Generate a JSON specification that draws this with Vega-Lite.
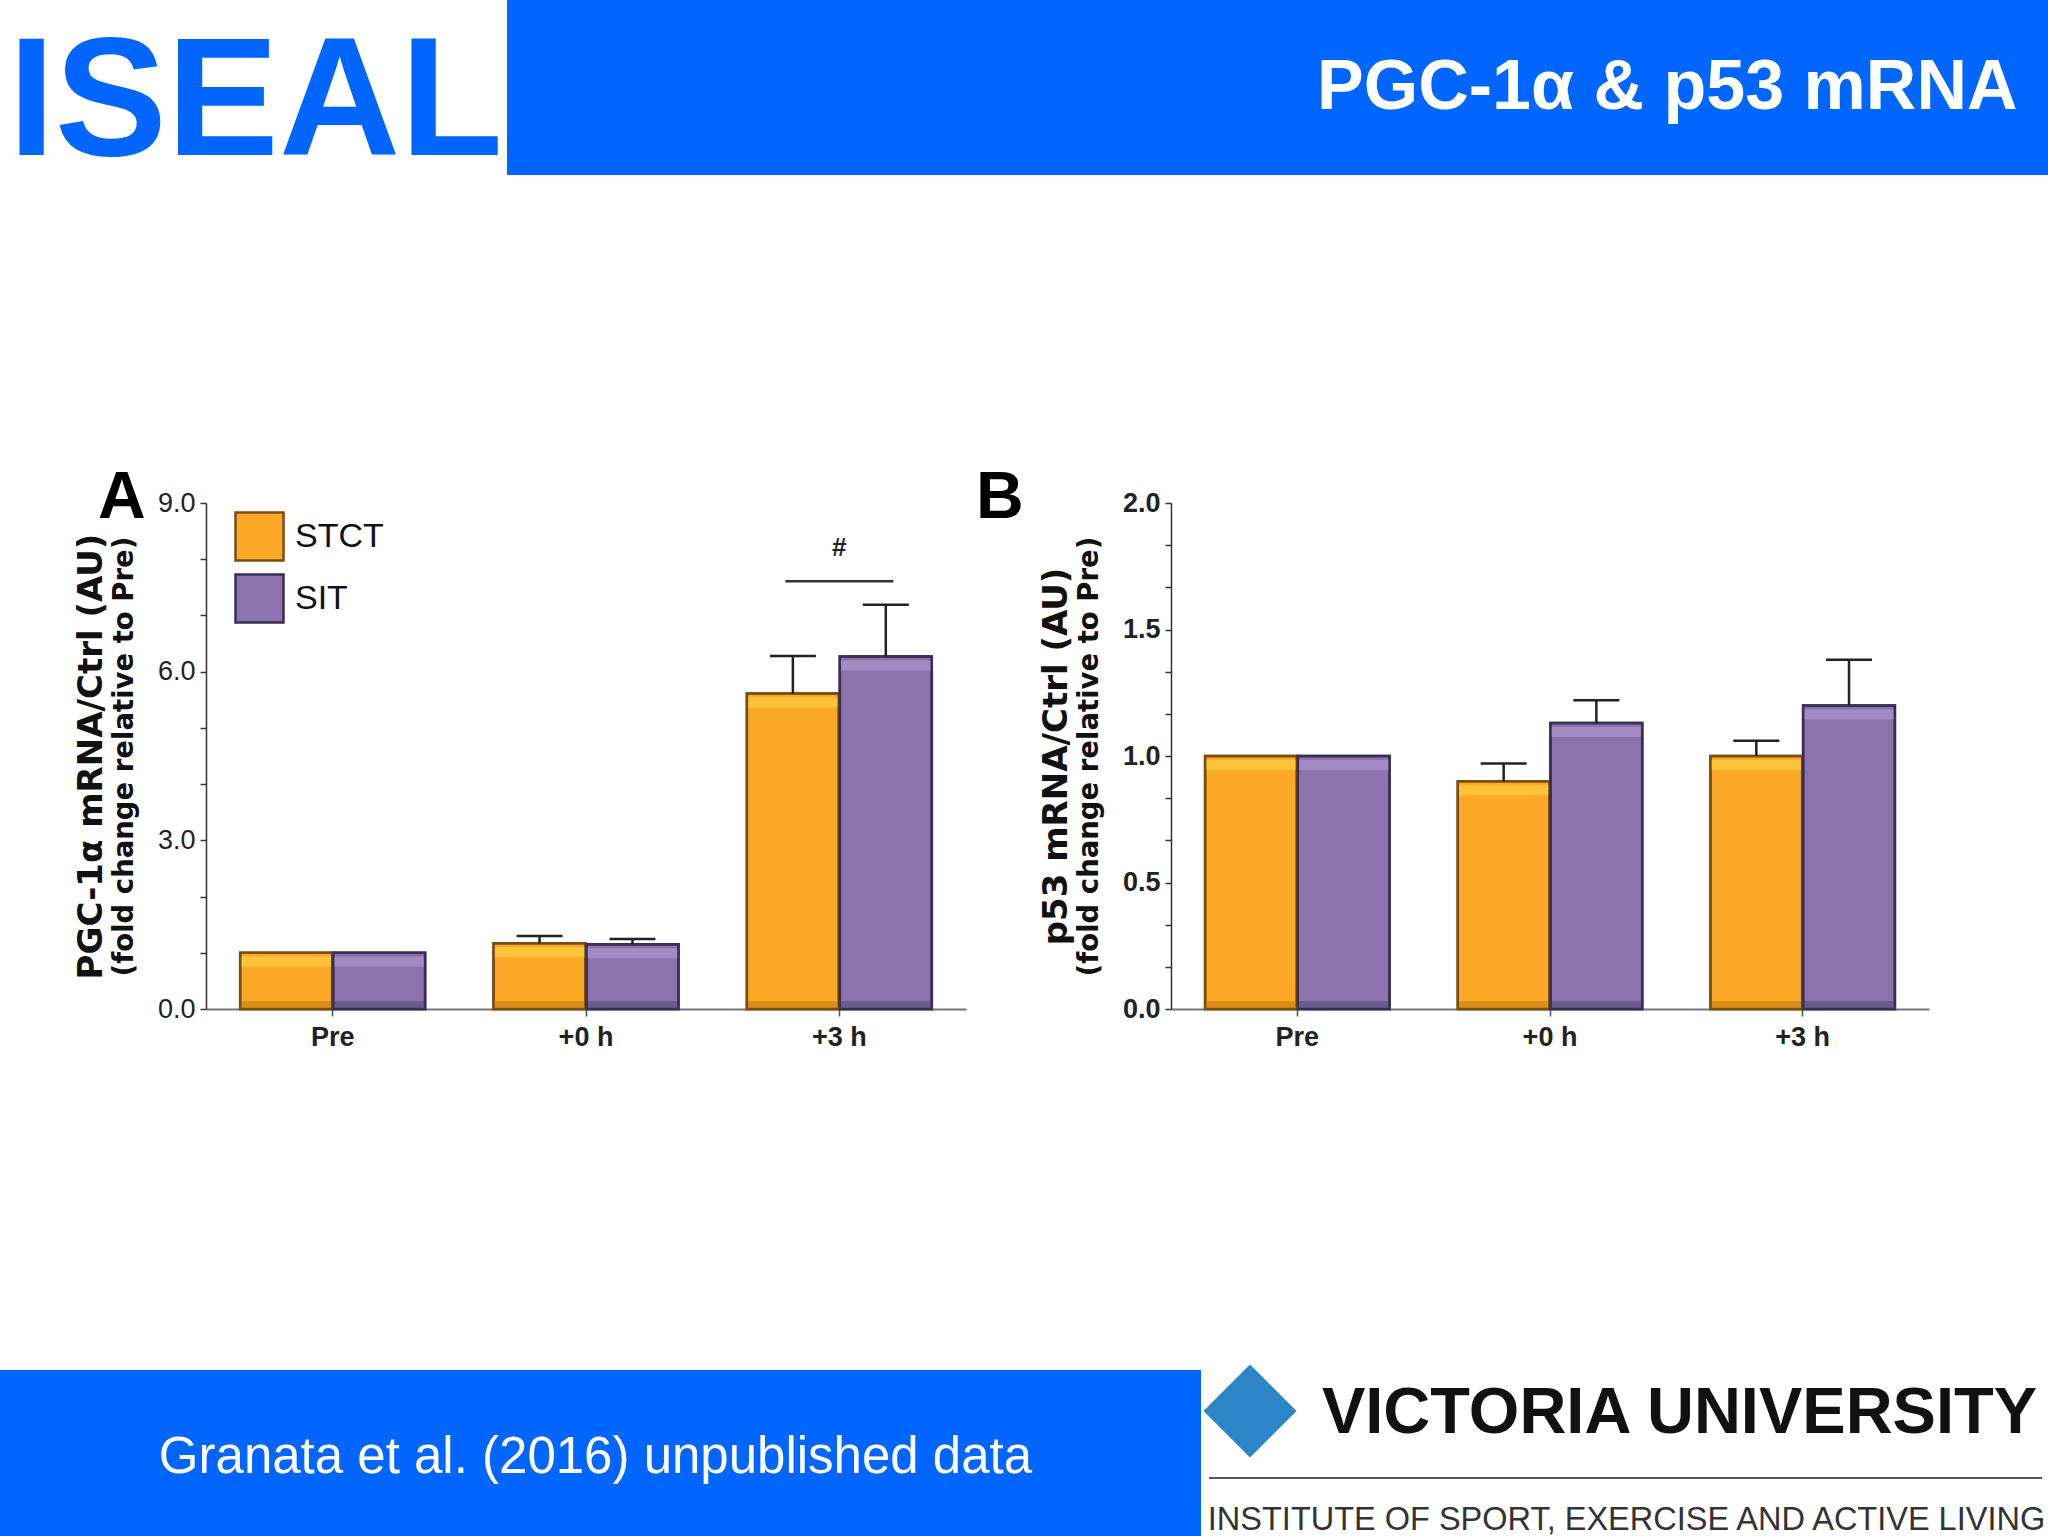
{
  "$schema": "https://vega.github.io/schema/vega-lite/v6.json",
  "padding": 0,
  "background": "white",
  "spacing": 0,
  "bounds": "flush",
  "config": {"view": {"stroke": null}, "concat": {"spacing": 0}},
  "datasets": {
    "pgc": [
      {"time": "Pre", "group": "STCT", "value": 1.0},
      {"time": "Pre", "group": "SIT", "value": 1.0},
      {"time": "+0 h", "group": "STCT", "value": 1.17},
      {"time": "+0 h", "group": "SIT", "value": 1.15},
      {"time": "+3 h", "group": "STCT", "value": 5.61},
      {"time": "+3 h", "group": "SIT", "value": 6.27}
    ],
    "pgcErr": [
      {"time": "+0 h", "group": "STCT", "value": 1.17, "upper": 1.30},
      {"time": "+0 h", "group": "SIT", "value": 1.15, "upper": 1.245},
      {"time": "+3 h", "group": "STCT", "value": 5.61, "upper": 6.28},
      {"time": "+3 h", "group": "SIT", "value": 6.27, "upper": 7.19}
    ],
    "pgcSig": [
      {"time": "+3 h", "line": 7.61, "mark": 8.2, "label": "#"}
    ],
    "p53": [
      {"time": "Pre", "group": "STCT", "value": 1.0},
      {"time": "Pre", "group": "SIT", "value": 1.0},
      {"time": "+0 h", "group": "STCT", "value": 0.90},
      {"time": "+0 h", "group": "SIT", "value": 1.13},
      {"time": "+3 h", "group": "STCT", "value": 1.0},
      {"time": "+3 h", "group": "SIT", "value": 1.20}
    ],
    "p53Err": [
      {"time": "+0 h", "group": "STCT", "value": 0.90, "upper": 0.97},
      {"time": "+0 h", "group": "SIT", "value": 1.13, "upper": 1.22},
      {"time": "+3 h", "group": "STCT", "value": 1.0, "upper": 1.06},
      {"time": "+3 h", "group": "SIT", "value": 1.20, "upper": 1.38}
    ]
  },
  "vconcat": [
    {
      "hconcat": [
        {
          "width": 507, "height": 175,
          "data": {"values": [{"t": "ISEAL"}]},
          "mark": {"type": "text", "font": "Liberation Sans", "fontWeight": "bold", "fontSize": 168, "color": "#0066FF", "align": "center", "baseline": "alphabetic", "dx": 2, "dy": 67},
          "encoding": {"text": {"field": "t"}}
        },
        {
          "width": 1541, "height": 175,
          "view": {"fill": "#0066FF", "stroke": null},
          "data": {"values": [{"t": "PGC-1α & p53 mRNA"}]},
          "mark": {"type": "text", "font": "Liberation Sans", "fontWeight": "bold", "fontSize": 70, "color": "white", "align": "right", "baseline": "alphabetic", "dx": 740, "dy": 21},
          "encoding": {"text": {"field": "t"}}
        }
      ],
      "spacing": 0, "bounds": "flush"
    },
    {
      "width": 2048, "height": 503,
      "data": {"values": [{}]},
      "mark": {"type": "text", "text": ""},
      "encoding": {}
    },
    {
      "hconcat": [
        {
          "width": 1, "height": 506,
          "data": {"values": [{}]},
          "mark": {"type": "text", "text": ""},
          "encoding": {}
        },
        {
          "width": 760, "height": 506,
          "title": {"text": "A", "anchor": "start", "frame": "group", "orient": "top", "offset": 0, "baseline": "alphabetic", "dx": -108, "dy": 95, "font": "Liberation Sans", "fontSize": 66, "fontWeight": "bold", "color": "#000"},
          "resolve": {"axis": {"y": "independent"}},
          "layer": [
            {
              "data": {"name": "pgc"},
              "mark": {"type": "bar", "strokeWidth": 2.5},
              "encoding": {
                "x": {"field": "time", "type": "nominal", "sort": ["Pre", "+0 h", "+3 h"], "title": null,
                  "scale": {"paddingInner": 0.27, "paddingOuter": 0.135},
                  "axis": {"labelAngle": 0, "labelFont": "Liberation Sans", "labelFontSize": 27, "labelFontWeight": "bold", "labelColor": "#222", "labelPadding": 8, "tickSize": 7, "tickColor": "#555", "tickWidth": 1.5, "domainColor": "#777", "domainWidth": 2}},
                "xOffset": {"field": "group", "type": "nominal", "sort": ["STCT", "SIT"], "scale": {"paddingInner": 0.01}},
                "y": {"field": "value", "type": "quantitative", "scale": {"domain": [0, 9], "nice": false},
                  "axis": {"orient": "left", "values": [0, 1, 2, 3, 4, 5, 6, 7, 8, 9], "labelExpr": "datum.value % 3 === 0 ? format(datum.value, '.1f') : ''", "grid": false,
                    "title": "(fold change relative to Pre)", "titleFont": "DejaVu Sans", "titleFontSize": 27.5, "titleFontWeight": "bold", "titleColor": "#111", "titlePadding": 19,
                    "labelFont": "Liberation Sans", "labelFontSize": 27, "labelColor": "#222", "labelPadding": 5, "tickSize": 6, "tickColor": "#333", "tickWidth": 1.5, "domainColor": "#333", "domainWidth": 1.5}},
                "fill": {"field": "group", "type": "nominal", "sort": ["STCT", "SIT"], "scale": {"domain": ["STCT", "SIT"], "range": ["#FBA926", "#8C73AE"]},
                  "legend": {"orient": "none", "legendX": 28, "legendY": 8, "title": null, "symbolType": "square", "symbolSize": 2304, "symbolStrokeWidth": 2.5, "symbolOpacity": 1, "labelFont": "Liberation Sans", "labelFontSize": 34, "labelColor": "#111", "labelOffset": 10, "rowPadding": 3, "padding": 0}},
                "stroke": {"field": "group", "type": "nominal", "sort": ["STCT", "SIT"], "scale": {"domain": ["STCT", "SIT"], "range": ["#7A4E10", "#3A2E55"]},
                  "legend": {"orient": "none", "legendX": 28, "legendY": 8, "title": null, "symbolType": "square", "symbolSize": 2304, "symbolStrokeWidth": 2.5, "symbolOpacity": 1, "labelFont": "Liberation Sans", "labelFontSize": 34, "labelColor": "#111", "labelOffset": 10, "rowPadding": 3, "padding": 0}}
              }
            },
            {
              "data": {"name": "pgc"},
              "mark": {"type": "bar", "yOffset": 4, "y2Offset": 14, "opacity": 0.85},
              "encoding": {
                "x": {"field": "time", "type": "nominal", "sort": ["Pre", "+0 h", "+3 h"], "title": null},
                "xOffset": {"field": "group", "type": "nominal", "sort": ["STCT", "SIT"]},
                "y": {"field": "value", "type": "quantitative", "scale": {"domain": [0, 9], "nice": false}, "axis": null},
                "y2": {"field": "value"},
                "fill": {"condition": {"test": "datum.group === 'STCT'", "value": "#FDC840"}, "value": "#A48FC5"}
              }
            },
            {
              "data": {"name": "pgc"},
              "mark": {"type": "bar", "yOffset": -8, "y2Offset": -1, "opacity": 0.85},
              "encoding": {
                "x": {"field": "time", "type": "nominal", "sort": ["Pre", "+0 h", "+3 h"], "title": null},
                "xOffset": {"field": "group", "type": "nominal", "sort": ["STCT", "SIT"]},
                "y": {"datum": 0, "type": "quantitative", "scale": {"domain": [0, 9], "nice": false}, "axis": null},
                "y2": {"datum": 0},
                "fill": {"condition": {"test": "datum.group === 'STCT'", "value": "#D68915"}, "value": "#66578A"}
              }
            },
            {
              "data": {"name": "pgc"},
              "mark": {"type": "bar", "fill": "transparent", "strokeWidth": 2.5},
              "encoding": {
                "x": {"field": "time", "type": "nominal", "sort": ["Pre", "+0 h", "+3 h"], "title": null},
                "xOffset": {"field": "group", "type": "nominal", "sort": ["STCT", "SIT"]},
                "y": {"field": "value", "type": "quantitative", "scale": {"domain": [0, 9], "nice": false}, "axis": null},
                "stroke": {"condition": {"test": "datum.group === 'STCT'", "value": "#7A4E10"}, "value": "#3A2E55"}
              }
            },
            {
              "data": {"name": "pgcErr"},
              "mark": {"type": "rule", "color": "#222", "strokeWidth": 2.5},
              "encoding": {
                "x": {"field": "time", "type": "nominal", "sort": ["Pre", "+0 h", "+3 h"], "title": null},
                "xOffset": {"field": "group", "type": "nominal", "sort": ["STCT", "SIT"]},
                "y": {"field": "value", "type": "quantitative", "scale": {"domain": [0, 9], "nice": false},
                  "axis": {"orient": "left", "title": "PGC-1α mRNA/Ctrl (AU)", "labels": false, "ticks": false, "domain": false, "grid": false, "titleFont": "DejaVu Sans", "titleFontSize": 34, "titleFontWeight": "bold", "titleColor": "#111", "titlePadding": 98}},
                "y2": {"field": "upper"}
              }
            },
            {
              "data": {"name": "pgcErr"},
              "mark": {"type": "tick", "color": "#222", "size": 46, "thickness": 2.5, "opacity": 1},
              "encoding": {
                "x": {"field": "time", "type": "nominal", "sort": ["Pre", "+0 h", "+3 h"], "title": null},
                "xOffset": {"field": "group", "type": "nominal", "sort": ["STCT", "SIT"]},
                "y": {"field": "upper", "type": "quantitative", "scale": {"domain": [0, 9], "nice": false}, "axis": null}
              }
            },
            {
              "data": {"name": "pgcSig"},
              "mark": {"type": "tick", "color": "#333", "size": 108, "thickness": 2.5, "opacity": 1},
              "encoding": {
                "x": {"field": "time", "type": "nominal", "sort": ["Pre", "+0 h", "+3 h"], "title": null},
                "y": {"field": "line", "type": "quantitative", "scale": {"domain": [0, 9], "nice": false}, "axis": null}
              }
            },
            {
              "data": {"name": "pgcSig"},
              "mark": {"type": "text", "font": "Liberation Sans", "fontWeight": "bold", "fontSize": 26, "color": "#222", "baseline": "middle", "align": "center"},
              "encoding": {
                "x": {"field": "time", "type": "nominal", "sort": ["Pre", "+0 h", "+3 h"], "title": null},
                "y": {"field": "mark", "type": "quantitative", "scale": {"domain": [0, 9], "nice": false}, "axis": null},
                "text": {"field": "label"}
              }
            }
          ]
        },
        {
          "width": 758, "height": 506,
          "title": {"text": "B", "anchor": "start", "frame": "group", "orient": "top", "offset": 0, "baseline": "alphabetic", "dx": -195, "dy": 95, "font": "Liberation Sans", "fontSize": 66, "fontWeight": "bold", "color": "#000"},
          "resolve": {"axis": {"y": "independent"}},
          "layer": [
            {
              "data": {"name": "p53"},
              "mark": {"type": "bar", "strokeWidth": 2.5},
              "encoding": {
                "x": {"field": "time", "type": "nominal", "sort": ["Pre", "+0 h", "+3 h"], "title": null,
                  "scale": {"paddingInner": 0.27, "paddingOuter": 0.135},
                  "axis": {"labelAngle": 0, "labelFont": "Liberation Sans", "labelFontSize": 27, "labelFontWeight": "bold", "labelColor": "#222", "labelPadding": 8, "tickSize": 7, "tickColor": "#555", "tickWidth": 1.5, "domainColor": "#777", "domainWidth": 2}},
                "xOffset": {"field": "group", "type": "nominal", "sort": ["STCT", "SIT"], "scale": {"paddingInner": 0.01}},
                "y": {"field": "value", "type": "quantitative", "scale": {"domain": [0, 2], "nice": false},
                  "axis": {"orient": "left", "values": [0, 0.16667, 0.33333, 0.5, 0.66667, 0.83333, 1, 1.16667, 1.33333, 1.5, 1.66667, 1.83333, 2], "labelExpr": "abs(datum.value * 2 - round(datum.value * 2)) < 0.01 ? format(datum.value, '.1f') : ''", "grid": false,
                    "title": "(fold change relative to Pre)", "titleFont": "DejaVu Sans", "titleFontSize": 27.5, "titleFontWeight": "bold", "titleColor": "#111", "titlePadding": 19,
                    "labelFont": "Liberation Sans", "labelFontSize": 27, "labelFontWeight": "bold", "labelColor": "#222", "labelPadding": 5, "tickSize": 6, "tickColor": "#333", "tickWidth": 1.5, "domainColor": "#333", "domainWidth": 1.5}},
                "fill": {"field": "group", "type": "nominal", "sort": ["STCT", "SIT"], "scale": {"domain": ["STCT", "SIT"], "range": ["#FBA926", "#8C73AE"]}, "legend": null},
                "stroke": {"field": "group", "type": "nominal", "sort": ["STCT", "SIT"], "scale": {"domain": ["STCT", "SIT"], "range": ["#7A4E10", "#3A2E55"]}, "legend": null}
              }
            },
            {
              "data": {"name": "p53"},
              "mark": {"type": "bar", "yOffset": 4, "y2Offset": 14, "opacity": 0.85},
              "encoding": {
                "x": {"field": "time", "type": "nominal", "sort": ["Pre", "+0 h", "+3 h"], "title": null},
                "xOffset": {"field": "group", "type": "nominal", "sort": ["STCT", "SIT"]},
                "y": {"field": "value", "type": "quantitative", "scale": {"domain": [0, 2], "nice": false}, "axis": null},
                "y2": {"field": "value"},
                "fill": {"condition": {"test": "datum.group === 'STCT'", "value": "#FDC840"}, "value": "#A48FC5"}
              }
            },
            {
              "data": {"name": "p53"},
              "mark": {"type": "bar", "yOffset": -8, "y2Offset": -1, "opacity": 0.85},
              "encoding": {
                "x": {"field": "time", "type": "nominal", "sort": ["Pre", "+0 h", "+3 h"], "title": null},
                "xOffset": {"field": "group", "type": "nominal", "sort": ["STCT", "SIT"]},
                "y": {"datum": 0, "type": "quantitative", "scale": {"domain": [0, 2], "nice": false}, "axis": null},
                "y2": {"datum": 0},
                "fill": {"condition": {"test": "datum.group === 'STCT'", "value": "#D68915"}, "value": "#66578A"}
              }
            },
            {
              "data": {"name": "p53"},
              "mark": {"type": "bar", "fill": "transparent", "strokeWidth": 2.5},
              "encoding": {
                "x": {"field": "time", "type": "nominal", "sort": ["Pre", "+0 h", "+3 h"], "title": null},
                "xOffset": {"field": "group", "type": "nominal", "sort": ["STCT", "SIT"]},
                "y": {"field": "value", "type": "quantitative", "scale": {"domain": [0, 2], "nice": false}, "axis": null},
                "stroke": {"condition": {"test": "datum.group === 'STCT'", "value": "#7A4E10"}, "value": "#3A2E55"}
              }
            },
            {
              "data": {"name": "p53Err"},
              "mark": {"type": "rule", "color": "#222", "strokeWidth": 2.5},
              "encoding": {
                "x": {"field": "time", "type": "nominal", "sort": ["Pre", "+0 h", "+3 h"], "title": null},
                "xOffset": {"field": "group", "type": "nominal", "sort": ["STCT", "SIT"]},
                "y": {"field": "value", "type": "quantitative", "scale": {"domain": [0, 2], "nice": false},
                  "axis": {"orient": "left", "title": "p53 mRNA/Ctrl (AU)", "labels": false, "ticks": false, "domain": false, "grid": false, "titleFont": "DejaVu Sans", "titleFontSize": 34, "titleFontWeight": "bold", "titleColor": "#111", "titlePadding": 98}},
                "y2": {"field": "upper"}
              }
            },
            {
              "data": {"name": "p53Err"},
              "mark": {"type": "tick", "color": "#222", "size": 46, "thickness": 2.5, "opacity": 1},
              "encoding": {
                "x": {"field": "time", "type": "nominal", "sort": ["Pre", "+0 h", "+3 h"], "title": null},
                "xOffset": {"field": "group", "type": "nominal", "sort": ["STCT", "SIT"]},
                "y": {"field": "upper", "type": "quantitative", "scale": {"domain": [0, 2], "nice": false}, "axis": null}
              }
            }
          ]
        }
      ],
      "spacing": 205, "bounds": "flush",
      "resolve": {"scale": {"fill": "independent", "stroke": "independent", "x": "independent", "y": "independent", "xOffset": "independent"}, "legend": {"fill": "independent", "stroke": "independent"}}
    },
    {
      "width": 2048, "height": 867,
      "data": {"values": [{}]},
      "mark": {"type": "text", "text": ""},
      "encoding": {}
    },
    {
      "hconcat": [
        {
          "width": 1201, "height": 166,
          "view": {"fill": "#0066FF", "stroke": null},
          "data": {"values": [{"t": "Granata et al. (2016) unpublished data"}]},
          "mark": {"type": "text", "font": "Liberation Sans", "fontSize": 51, "color": "white", "align": "center", "baseline": "alphabetic", "dx": -5, "dy": 20},
          "encoding": {"text": {"field": "t"}}
        },
        {
          "vconcat": [
            {
              "hconcat": [
                {
                  "width": 98, "height": 82,
                  "data": {"values": [{}]},
                  "mark": {"type": "point", "shape": "diamond", "filled": true, "size": 8649, "color": "#2B85C6", "opacity": 1},
                  "encoding": {}
                },
                {
                  "width": 749, "height": 107,
                  "data": {"values": [{"t": "VICTORIA UNIVERSITY"}]},
                  "mark": {"type": "text", "font": "Liberation Sans", "fontWeight": "bold", "fontSize": 65, "color": "#111", "align": "center", "baseline": "alphabetic", "dx": 6, "dy": 9},
                  "encoding": {"text": {"field": "t"}}
                }
              ],
              "spacing": 0, "bounds": "flush"
            },
            {"width": 847, "height": 107, "data": {"values": [{}]}, "mark": {"type": "text", "text": ""}, "encoding": {}},
            {
              "hconcat": [
                {"width": 8, "height": 2, "data": {"values": [{}]}, "mark": {"type": "text", "text": ""}, "encoding": {}},
                {"width": 833, "height": 2, "view": {"fill": "#555555", "stroke": null}, "data": {"values": [{}]}, "mark": {"type": "text", "text": ""}, "encoding": {}},
                {"width": 6, "height": 2, "data": {"values": [{}]}, "mark": {"type": "text", "text": ""}, "encoding": {}}
              ],
              "spacing": 0, "bounds": "flush"
            },
            {"width": 847, "height": 2, "data": {"values": [{}]}, "mark": {"type": "text", "text": ""}, "encoding": {}},
            {
              "width": 847, "height": 57,
              "data": {"values": [{"t": "INSTITUTE OF SPORT, EXERCISE AND ACTIVE LIVING"}]},
              "mark": {"type": "text", "font": "Liberation Sans", "fontSize": 32.5, "color": "#333", "align": "center", "baseline": "alphabetic", "dx": 2, "dy": 22},
              "encoding": {"text": {"field": "t"}}
            }
          ],
          "spacing": 0, "bounds": "flush"
        }
      ],
      "spacing": 0, "bounds": "flush"
    }
  ]
}
